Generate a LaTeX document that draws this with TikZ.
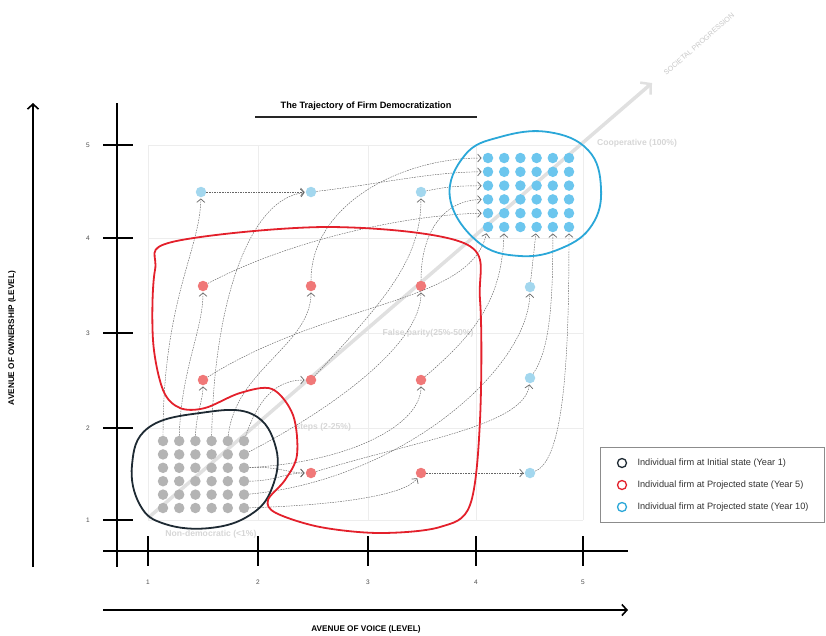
\documentclass[tikz,border=0pt]{standalone}
\usepackage{fontspec}
\setmainfont{Liberation Sans}
\usetikzlibrary{arrows.meta}
\definecolor{gridc}{HTML}{EDEDED}
\definecolor{dotgray}{HTML}{B4B4B4}
\definecolor{dotred}{HTML}{F07878}
\definecolor{dotblue}{HTML}{6CC6EE}
\definecolor{dotlblue}{HTML}{A3D7EE}
\definecolor{blobred}{HTML}{E3202B}
\definecolor{blobdark}{HTML}{1E2A33}
\definecolor{blobblue}{HTML}{2AA7D8}
\definecolor{conngray}{HTML}{666666}
\definecolor{faint}{HTML}{D6D6D6}
\definecolor{progc}{HTML}{E0E0E0}
\tikzset{
  gdot/.style={circle, fill=dotgray, inner sep=0pt, minimum size=10.5pt},
  rdot/.style={circle, fill=dotred, inner sep=0pt, minimum size=10.5pt},
  bdot/.style={circle, fill=dotblue, inner sep=0pt, minimum size=10.5pt},
  ldot/.style={circle, fill=dotlblue, inner sep=0pt, minimum size=10.5pt},
  conn/.style={draw=conngray, line width=0.45pt, dash pattern=on 1.6pt off 1pt,
    -{Straight Barb[length=3.5pt,width=8pt,line width=0.7pt]}, shorten >=1pt},
  axisline/.style={line width=1.6pt, black},
  blob/.style={line width=1.8pt},
  faintlabel/.style={text=faint, font=\bfseries\fontsize{8.6}{9}\selectfont},
  ticklabel/.style={text=black!70, font=\fontsize{6.5}{7}\selectfont},
  axislabel/.style={font=\bfseries\fontsize{8.2}{9}\selectfont},
  legtext/.style={anchor=west, text=black!80, font=\fontsize{9.2}{10}\selectfont},
  legcirc/.style={circle, draw, line width=1.3pt, inner sep=0pt, minimum size=9pt}
}
\begin{document}
\begin{tikzpicture}[x=1pt,y=-1pt]
\useasboundingbox (0,0) rectangle (826,635);

% grid
\foreach \gx in {148,258,368,476,583} \draw[gridc, line width=0.9pt] (\gx,145) -- (\gx,520);
\foreach \gy in {145,238,333,428,520} \draw[gridc, line width=0.9pt] (148,\gy) -- (583,\gy);

% faint region labels
\node[faintlabel] (lab-coop) at (637,143) {Cooperative (100\%)};
\node[faintlabel] (lab-false) at (428,333) {False parity(25\%-50\%)};
\node[faintlabel, anchor=west] (lab-steps) at (292,427) {steps (2-25\%)};
\node[faintlabel] (lab-non) at (211,534) {Non-democratic (<1\%)};

% societal progression
\coordinate (prog-a) at (148,518);
\coordinate (prog-b) at (652,83);
\draw[progc, line width=3.5pt, -{Straight Barb[length=7pt,width=16pt,line width=2.5pt]}] (prog-a) -- (prog-b);
\node[text=black!22, rotate=41, font=\fontsize{7.2}{8}\selectfont] (prog-t) at (699,44) {SOCIETAL PROGRESSION};

% title
\node[font=\bfseries\fontsize{9.2}{10}\selectfont] (title) at (366,106) {The Trajectory of Firm Democratization};
\draw[line width=1.5pt, black!85] (255,117) -- (477,117);

% dots
\foreach \r in {1,...,6}{\foreach \c in {1,...,6}{
  \node[gdot] (g-\r-\c) at ({163+16.2*(\c-1)},{441+13.4*(\r-1)}) {};
  \node[bdot] (b-\r-\c) at ({488+16.2*(\c-1)},{158+13.8*(\r-1)}) {};
}}
\node[ldot] (bl1) at (201,192) {};
\node[ldot] (bl2) at (311,192) {};
\node[ldot] (bl3) at (421,192) {};
\node[rdot] (r1) at (203,286) {};
\node[rdot] (r3) at (311,286) {};
\node[rdot] (r5) at (421,286) {};
\node[ldot] (bl4) at (530,287) {};
\node[rdot] (r2) at (203,380) {};
\node[rdot] (r4) at (311,380) {};
\node[rdot] (r6) at (421,380) {};
\node[ldot] (bl5) at (530,378) {};
\node[rdot] (r7) at (311,473) {};
\node[rdot] (r8) at (421,473) {};
\node[ldot] (bl6) at (530,473) {};

% connectors: initial -> year 5
\draw[conn] (g-1-1) .. controls (163,300) and (200,250) .. (bl1);
\draw[conn] (g-1-2) .. controls (181,370) and (203,330) .. (r1);
\draw[conn] (g-1-3) .. controls (196,415) and (203,400) .. (r2);
\draw[conn] (g-1-4) .. controls (214,300) and (250,198) .. (bl2);
\draw[conn] (g-1-5) .. controls (235,370) and (311,345) .. (r3);
\draw[conn] (g-1-6) .. controls (258,400) and (275,380) .. (r4);
\draw[conn] (g-2-6) .. controls (330,410) and (421,345) .. (r5);
\draw[conn] (g-3-6) .. controls (350,462) and (421,425) .. (r6);
\draw[conn] (g-3-6) .. controls (275,466) and (290,473) .. (r7);
\draw[conn] (g-4-6) .. controls (275,481) and (285,473) .. (r7);
\draw[conn] (g-5-6) .. controls (400,480) and (528,370) .. (bl4);
\draw[conn] (g-6-6) .. controls (340,505) and (405,495) .. (r8);
% year 5 -> year 10
\draw[conn] (bl1) -- (bl2);
\draw[conn] (bl2) .. controls (380,184) and (430,172) .. (b-2-1);
\draw[conn] (r3) .. controls (311,205) and (400,158) .. (b-1-1);
\draw[conn] (r4) .. controls (385,300) and (421,260) .. (bl3);
\draw[conn] (bl3) .. controls (450,186) and (460,186) .. (b-3-1);
\draw[conn] (r5) .. controls (421,230) and (445,200) .. (b-4-1);
\draw[conn] (r1) .. controls (300,235) and (420,214) .. (b-5-1);
\draw[conn] (r2) .. controls (330,300) and (470,305) .. (b-6-1);
\draw[conn] (r6) .. controls (480,330) and (502,295) .. (b-6-2);
\draw[conn] (bl4) -- (b-6-4);
\draw[conn] (bl5) .. controls (550,350) and (553,300) .. (b-6-5);
\draw[conn] (bl6) .. controls (565,460) and (569,350) .. (b-6-6);
\draw[conn] (r7) .. controls (420,440) and (525,425) .. (bl5);
\draw[conn] (r8) -- (bl6);

% blobs
\draw[blob, blobdark] plot[smooth cycle, tension=0.7] coordinates {
  (132,465) (148,428) (200,413) (252,414) (276,448) (272,488) (250,515) (210,528) (165,524) (140,505)};
\draw[blob, blobblue] plot[smooth cycle, tension=0.7] coordinates {
  (450,198) (465,155) (500,137) (548,132) (588,150) (601,188) (592,225) (562,248) (520,256) (478,242)};
\draw[blob, blobred] plot[smooth cycle, tension=0.55] coordinates {
  (330,227) (466,244) (480,300) (480,420) (470,505) (440,527) (380,533) (320,527) (276,513) (268,500)
  (285,480) (297,455) (293,415) (272,389) (240,393) (205,408) (180,408) (163,390) (153,340) (155,270) (172,242)};

% axes
\draw[axisline] (117,103) -- (117,567);
\foreach \ty in {145,238,333,428,520} \draw[axisline] (103,\ty) -- (133,\ty);
\node[ticklabel] (yl5) at (88,145) {5};
\node[ticklabel] (yl4) at (88,238) {4};
\node[ticklabel] (yl3) at (88,333) {3};
\node[ticklabel] (yl2) at (88,428) {2};
\node[ticklabel] (yl1) at (88,520) {1};
\draw[axisline] (103,551) -- (628,551);
\foreach \tx/\tl in {148/1,258/2,368/3,476/4,583/5} {
  \draw[axisline] (\tx,536) -- (\tx,566);
  \node[ticklabel] (xl\tl) at (\tx,582) {\tl};
}
\coordinate (xa-start) at (103,610);
\coordinate (xa-end) at (628,610);
\draw[axisline, -{Straight Barb[length=5pt,width=11pt,line width=1.6pt]}] (xa-start) -- (xa-end);
\node[axislabel] (xlabel) at (366,629) {AVENUE OF VOICE (LEVEL)};
\coordinate (ya-start) at (33,567);
\coordinate (ya-end) at (33,103);
\draw[axisline, -{Straight Barb[length=5pt,width=11pt,line width=1.6pt]}] (ya-start) -- (ya-end);
\node[axislabel, rotate=90] (ylabel) at (12,338) {AVENUE OF OWNERSHIP (LEVEL)};

% legend
\draw[draw=black!45, line width=1pt, fill=white] (600,447) rectangle (824,522);
\node[legcirc, draw=blobdark] (lc1) at (622,463) {};
\node[legcirc, draw=blobred] (lc2) at (622,485) {};
\node[legcirc, draw=blobblue] (lc3) at (622,507) {};
\node[legtext] (lt1) at (634,463) {Individual firm at Initial state (Year 1)};
\node[legtext] (lt2) at (634,485) {Individual firm at Projected state (Year 5)};
\node[legtext] (lt3) at (634,507) {Individual firm at Projected state (Year 10)};
\end{tikzpicture}
\end{document}
